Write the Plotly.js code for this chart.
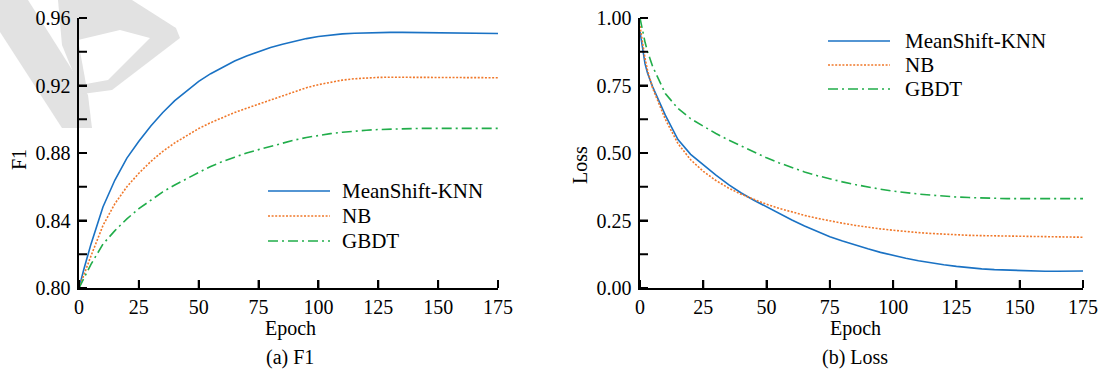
<!DOCTYPE html>
<html>
<head>
<meta charset="utf-8">
<script src="https://cdn.plot.ly/plotly-3.0.1.min.js"></script>
<style>html,body{margin:0;padding:0;background:#fff;}#chart{width:1101px;height:369px;}</style>
</head>
<body>
<div id="chart"></div>
<script>
// ---- data ----
const epochs = [0,1,2,3,5,10,15,20,25,30,35,40,45,50,55,60,65,70,75,80,85,90,95,100,105,110,115,120,125,130,135,140,145,150,155,160,165,170,175];
const seriesNames = ["MeanShift-KNN","NB","GBDT"];
const f1_meanshift = [0.800,0.806,0.811,0.816,0.826,0.848,0.864,0.877,0.887,0.896,0.904,0.911,0.917,0.9225,0.927,0.931,0.9345,0.9375,0.940,0.9425,0.9445,0.9463,0.9478,0.949,0.950,0.9506,0.951,0.9513,0.9515,0.9515,0.9515,0.9514,0.9513,0.9512,0.9511,0.9510,0.9509,0.9508,0.9508];
const f1_nb = [0.800,0.804,0.808,0.812,0.819,0.837,0.850,0.860,0.868,0.875,0.881,0.886,0.8905,0.8945,0.898,0.901,0.904,0.9065,0.909,0.9115,0.914,0.9165,0.9187,0.9205,0.922,0.9232,0.924,0.9245,0.9248,0.9249,0.9249,0.9249,0.9248,0.9248,0.9247,0.9247,0.9246,0.9246,0.9246];
const f1_gbdt = [0.800,0.803,0.806,0.809,0.814,0.826,0.834,0.841,0.847,0.852,0.857,0.861,0.865,0.8685,0.872,0.875,0.8775,0.880,0.882,0.884,0.886,0.8877,0.8892,0.8905,0.8915,0.8923,0.893,0.8935,0.8939,0.8942,0.8944,0.8945,0.8946,0.8946,0.8946,0.8946,0.8946,0.8946,0.8946];
const loss_meanshift = [0.95,0.88,0.83,0.795,0.745,0.64,0.55,0.495,0.455,0.418,0.383,0.352,0.325,0.30,0.275,0.252,0.23,0.21,0.19,0.174,0.159,0.145,0.132,0.12,0.11,0.101,0.093,0.086,0.08,0.075,0.071,0.068,0.066,0.064,0.063,0.062,0.062,0.062,0.063];
const loss_nb = [0.97,0.90,0.85,0.805,0.74,0.625,0.535,0.475,0.432,0.398,0.37,0.347,0.328,0.31,0.295,0.281,0.269,0.258,0.248,0.24,0.232,0.225,0.219,0.214,0.209,0.205,0.202,0.199,0.197,0.195,0.194,0.193,0.192,0.191,0.19,0.189,0.189,0.188,0.188];
const loss_gbdt = [1.00,0.95,0.91,0.875,0.82,0.72,0.665,0.627,0.598,0.572,0.548,0.525,0.502,0.482,0.463,0.446,0.43,0.416,0.404,0.393,0.383,0.374,0.366,0.359,0.353,0.348,0.344,0.34,0.337,0.335,0.333,0.332,0.331,0.331,0.331,0.331,0.331,0.331,0.331];
const xTickVals = [0,25,50,75,100,125,150,175];
const f1Range = [0.80,0.96];
const f1TickVals = [0.80,0.84,0.88,0.92,0.96];
const f1MinorTicks = [0.82,0.86,0.90,0.94];
const lossRange = [0,1];
const lossTickVals = [0,0.25,0.5,0.75,1.0];
const lossMinorTicks = [0.125,0.375,0.625,0.875];

// ---- styles ----
const W = 1101, H = 369;
const FONT = "Liberation Serif, Times New Roman, serif";
const styles = [
  {color:"#1a72c4", width:1.6, dash:"solid"},
  {color:"#f0782a", width:1.6, dash:"2px,1.6px"},
  {color:"#21ad4a", width:1.6, dash:"10px,4px,2px,4px"}
];
const px = x => x / W;
const py = y => 1 - y / H;

const f1Series = [f1_meanshift, f1_nb, f1_gbdt];
const lossSeries = [loss_meanshift, loss_nb, loss_gbdt];
const traces = [];
f1Series.forEach((s,i)=>traces.push({x:epochs,y:s,type:"scatter",mode:"lines",name:seriesNames[i],
  line:{color:styles[i].color,width:styles[i].width,dash:styles[i].dash},xaxis:"x",yaxis:"y",showlegend:false,hoverinfo:"skip"}));
lossSeries.forEach((s,i)=>traces.push({x:epochs,y:s,type:"scatter",mode:"lines",name:seriesNames[i],
  line:{color:styles[i].color,width:styles[i].width,dash:styles[i].dash},xaxis:"x2",yaxis:"y2",showlegend:false,hoverinfo:"skip"}));

const axisCommon = {ticks:"inside",ticklen:8,tickwidth:2,tickcolor:"#000",showline:true,linecolor:"#000",linewidth:1.6,
  showgrid:false,zeroline:false,tickfont:{family:FONT,size:20,color:"#000"},fixedrange:true};

function xAx(dom, anchor){return Object.assign({},axisCommon,{domain:dom,anchor:anchor,range:[0,175],tickmode:"array",tickvals:xTickVals,ticktext:xTickVals.map(String),ticklabelstandoff:0});}
function yAx(dom, anchor, rng, vals){return Object.assign({},axisCommon,{domain:dom,anchor:anchor,range:rng,tickmode:"array",tickvals:vals,ticktext:vals.map(v=>v.toFixed(2)),ticklabelstandoff:3});}

// watermark (decorative) in pixel coords
function poly(pts){return "M "+pts.map(p=>px(p[0]).toFixed(5)+","+py(p[1]).toFixed(5)).join(" L ")+" Z";}
const shapes = [
  {type:"path",xref:"paper",yref:"paper",layer:"below",path:poly([[0,0],[28,0],[88,95],[92,128],[62,128],[0,32]]),fillcolor:"#e2e2e2",line:{width:0}},
  {type:"path",xref:"paper",yref:"paper",layer:"below",path:poly([[58,0],[132,0],[176,28],[180,38],[112,90],[82,94],[62,45]]),fillcolor:"#e2e2e2",line:{width:0}},
  {type:"path",xref:"paper",yref:"paper",layer:"below",path:poly([[78,40],[120,30],[150,38],[108,80],[86,84]]),fillcolor:"#ffffff",line:{width:0}}
];
// explicit tick stubs (inside), in paper coords computed from the axis ranges/domains
const TL = 8;
const xDomL = [79,498], xDomR = [640,1083], yTop = 18, yBot = 288;
function yStubs(xpix, rng, vals){
  vals.forEach(v=>{const yp = yBot - (v-rng[0])/(rng[1]-rng[0])*(yBot-yTop);
    shapes.push({type:"line",xref:"paper",yref:"paper",x0:px(xpix),x1:px(xpix+TL),y0:py(yp),y1:py(yp),line:{color:"#000",width:2}});});
}
function xStubs(dom, vals){
  vals.forEach(v=>{const xp = dom[0] + v/175*(dom[1]-dom[0]);
    shapes.push({type:"line",xref:"paper",yref:"paper",x0:px(xp),x1:px(xp),y0:py(yBot),y1:py(yBot-TL),line:{color:"#000",width:2}});});
}
yStubs(xDomL[0],f1Range,f1TickVals.concat(f1MinorTicks));
yStubs(xDomR[0],lossRange,lossTickVals.concat(lossMinorTicks));
xStubs(xDomL,xTickVals);
xStubs(xDomR,xTickVals);

// legends (manual)
const annotations = [];
function legend(x0,x1,xt,ys){
  ys.forEach((y,i)=>{
    shapes.push({type:"line",xref:"paper",yref:"paper",x0:px(x0),x1:px(x1),y0:py(y),y1:py(y),line:{color:styles[i].color,width:styles[i].width,dash:styles[i].dash}});
    annotations.push({xref:"paper",yref:"paper",x:px(xt),y:py(y),xanchor:"left",yanchor:"middle",showarrow:false,text:seriesNames[i],font:{family:FONT,size:21,color:"#000"}});
  });
}
legend(268,330,340,[191,216,241]);
legend(828,890,903,[41,65,89]);

function txt(x,y,t,angle){annotations.push({xref:"paper",yref:"paper",x:px(x),y:py(y),xanchor:"center",yanchor:"middle",showarrow:false,text:t,textangle:angle||0,font:{family:FONT,size:20,color:"#000"}});}
txt(290,328,"Epoch"); txt(855,328,"Epoch");
txt(290,357,"(a) F1"); txt(855,357,"(b) Loss");
txt(19,160,"F1",-90); txt(580,165,"Loss",-90);

const yDom = [py(yBot),py(yTop)];
const layout = {
  width:W,height:H,margin:{l:0,r:0,t:0,b:0},paper_bgcolor:"#fff",plot_bgcolor:"rgba(0,0,0,0)",showlegend:false,
  xaxis:xAx([px(xDomL[0]),px(xDomL[1])],"y"),
  xaxis2:xAx([px(xDomR[0]),px(xDomR[1])],"y2"),
  yaxis:yAx(yDom,"x",f1Range,f1TickVals),
  yaxis2:yAx(yDom,"x2",lossRange,lossTickVals),
  shapes:shapes,annotations:annotations
};
Plotly.newPlot("chart",traces,layout,{staticPlot:true,displayModeBar:false});
</script>
</body>
</html>
